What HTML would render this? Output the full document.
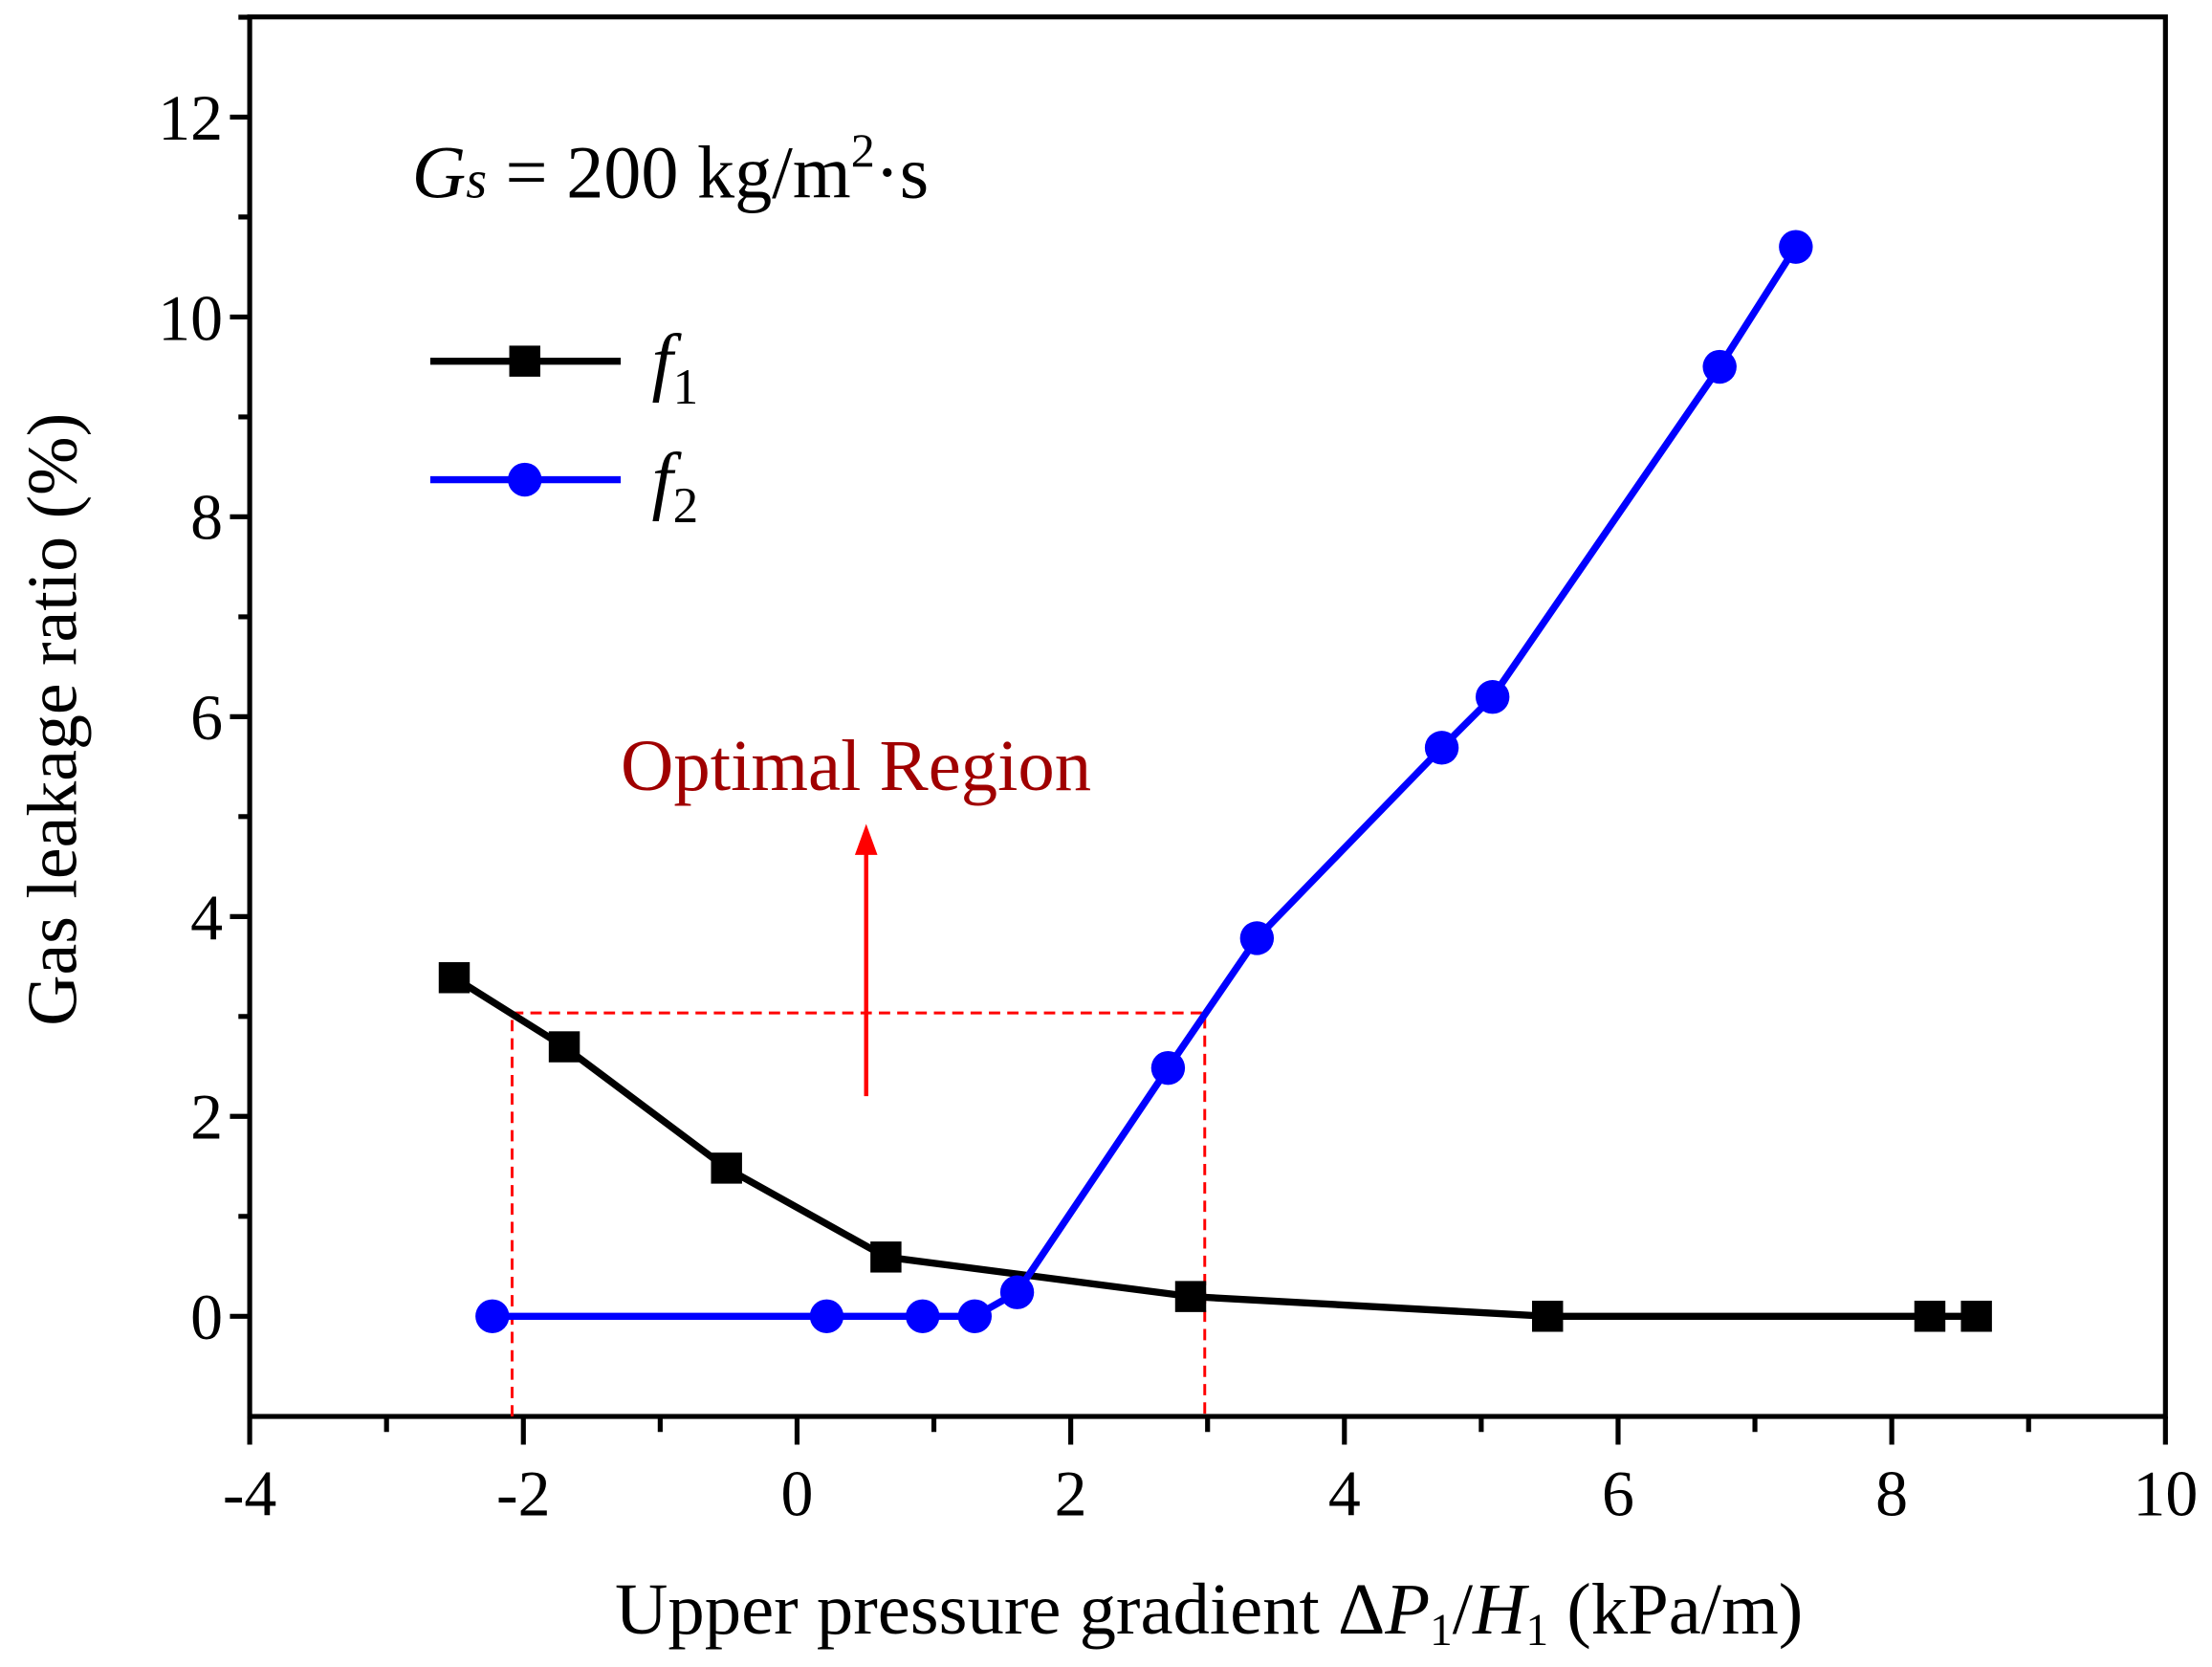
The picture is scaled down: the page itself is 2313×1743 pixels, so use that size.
<!DOCTYPE html>
<html><head><style>html,body{margin:0;padding:0;background:#fff}svg{display:block}text{font-family:"Liberation Serif",serif}</style></head>
<body>
<svg width="2313" height="1743" viewBox="0 0 1568 1181.6" preserveAspectRatio="none" xmlns="http://www.w3.org/2000/svg">
<rect width="1568" height="1182" fill="#fff"/>
<g stroke="#000" stroke-width="3.5" fill="none">
<rect x="177" y="12" width="1358" height="992"/>
<path d="M177 1004V1024M371 1004V1024M565 1004V1024M759 1004V1024M953 1004V1024M1147 1004V1024M1341 1004V1024M1535 1004V1024
M274 1004V1015M468 1004V1015M662 1004V1015M856 1004V1015M1050 1004V1015M1244 1004V1015M1438 1004V1015"/>
<path d="M177 933H163M177 791.3H163M177 649.7H163M177 508H163M177 366.3H163M177 224.7H163M177 83H163
M177 862.2H169M177 720.5H169M177 578.8H169M177 437.2H169M177 295.5H169M177 153.8H169M177 12.2H169"/>
</g>
<g font-size="46" text-anchor="end" font-family="Liberation Serif, serif">
<text x="158" y="949">0</text><text x="158" y="807">2</text><text x="158" y="666">4</text>
<text x="158" y="524">6</text><text x="158" y="382">8</text><text x="158" y="241">10</text><text x="158" y="99">12</text>
</g>
<g font-size="46" text-anchor="middle" font-family="Liberation Serif, serif">
<text x="177" y="1074">-4</text><text x="371" y="1074">-2</text><text x="565" y="1074">0</text>
<text x="759" y="1074">2</text><text x="953" y="1074">4</text><text x="1147" y="1074">6</text>
<text x="1341" y="1074">8</text><text x="1535" y="1074">10</text>
</g>
<text x="857" y="1158" font-size="52" text-anchor="middle" font-family="Liberation Serif, serif">Upper pressure gradient Δ<tspan font-style="italic">P</tspan><tspan font-size="32" dy="8">1</tspan><tspan dy="-8">/</tspan><tspan font-style="italic">H</tspan><tspan font-size="32" dy="8">1</tspan><tspan dy="-8"> (kPa/m)</tspan></text>
<g transform="translate(54,510) rotate(-90)"><text x="0" y="0" font-size="50" text-anchor="middle" font-family="Liberation Serif" style="font-family:'Liberation Serif',serif">Gas leakage ratio (%)</text></g>
<text x="292" y="140" font-size="53" font-family="Liberation Serif, serif"><tspan font-style="italic">G</tspan><tspan font-style="italic" font-size="38">s</tspan> = 200 kg/m<tspan font-size="34" dy="-22">2</tspan><tspan dy="22">·s</tspan></text>
<g stroke="#f00" stroke-width="2" stroke-dasharray="8,5" fill="none">
<path d="M363 1004V718H854V1004"/>
</g>
<path d="M614 777V600" stroke="#f00" stroke-width="3"/>
<path d="M606 606L614 584L622 606Z" fill="#f00"/>
<text x="440" y="560" font-size="52" fill="#a00000" font-family="Liberation Serif, serif">Optimal Region</text>
<polyline points="322,693 400,742 515,828 628,891 844,919 1097,933 1368,933 1401,933" fill="none" stroke="#000" stroke-width="5"/>
<g fill="#000">
<rect x="311" y="682" width="22" height="22"/><rect x="389" y="731" width="22" height="22"/>
<rect x="504" y="817" width="22" height="22"/><rect x="617" y="880" width="22" height="22"/>
<rect x="833" y="908" width="22" height="22"/><rect x="1086" y="922" width="22" height="22"/>
<rect x="1357" y="922" width="22" height="22"/><rect x="1390" y="922" width="22" height="22"/>
</g>
<polyline points="349,933 586,933 654,933 691,933 721,916 828,757 891,665 1022,530 1058,494 1219,260 1273,175" fill="none" stroke="#00f" stroke-width="5"/>
<g fill="#00f">
<circle cx="349" cy="933" r="12"/><circle cx="586" cy="933" r="12"/><circle cx="654" cy="933" r="12"/>
<circle cx="691" cy="933" r="12"/><circle cx="721" cy="916" r="12"/><circle cx="828" cy="757" r="12"/>
<circle cx="891" cy="665" r="12"/><circle cx="1022" cy="530" r="12"/><circle cx="1058" cy="494" r="12"/>
<circle cx="1219" cy="260" r="12"/><circle cx="1273" cy="175" r="12"/>
</g>
<path d="M305 256H440" stroke="#000" stroke-width="5"/>
<rect x="361" y="245" width="22" height="22" fill="#000"/>
<path d="M305 340H440" stroke="#00f" stroke-width="5"/>
<circle cx="372" cy="340" r="12" fill="#00f"/>
<text x="462" y="274" font-size="54" font-style="italic" font-family="Liberation Serif, serif">f<tspan font-style="normal" font-size="36" dy="12">1</tspan></text>
<text x="462" y="358" font-size="54" font-style="italic" font-family="Liberation Serif, serif">f<tspan font-style="normal" font-size="36" dy="12">2</tspan></text>
</svg>
</body></html>
